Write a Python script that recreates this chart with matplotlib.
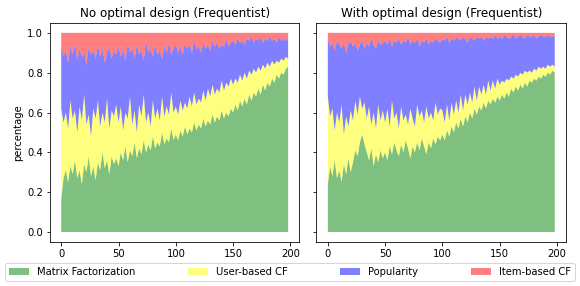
import numpy as np
import matplotlib
matplotlib.use("Agg")
import matplotlib.pyplot as plt

# shares (in %) of each recommender per round (every 2nd round)
rounds = np.arange(0, 200, 2)
labels = ["Matrix Factorization", "User-based CF", "Popularity", "Item-based CF"]
colors = ["green", "yellow", "blue", "red"]
titles = ["No optimal design (Frequentist)", "With optimal design (Frequentist)"]

# left panel: no optimal design
mf_no = [16, 27, 31, 25, 33, 29, 36, 27, 31, 24, 34, 30, 38, 28, 33, 26, 35, 31, 40, 32, 36, 29, 38, 34, 37,
         33, 40, 36, 43, 35, 41, 38, 45, 37, 42, 39, 46, 40, 44, 41, 48, 42, 45, 43, 50, 44, 47, 45, 52, 46,
         49, 46, 51, 48, 53, 49, 52, 50, 55, 51, 54, 52, 57, 53, 56, 54, 59, 55, 58, 56, 61, 57, 60, 58, 62,
         60, 64, 61, 66, 63, 67, 64, 69, 66, 70, 68, 72, 69, 74, 71, 75, 73, 77, 75, 79, 77, 80, 79, 82, 83]
ub_no = [46, 28, 29, 27, 33, 28, 25, 23, 32, 32, 35, 24, 21, 20, 29, 31, 31, 22, 20, 23, 31, 23, 23, 24, 27,
         22, 23, 15, 17, 22, 27, 16, 16, 13, 22, 19, 23, 15, 16, 12, 18, 15, 17, 13, 18, 14, 16, 14, 18, 14,
         14, 13, 15, 13, 12, 13, 16, 13, 15, 13, 13, 13, 14, 13, 16, 14, 15, 14, 14, 14, 15, 14, 15, 15, 15,
         14, 13, 14, 13, 13, 13, 13, 12, 13, 12, 12, 11, 12, 10, 11, 10, 10, 9, 9, 7, 8, 7, 7, 6, 4]
pop_no = [32, 33, 31, 33, 27, 32, 34, 36, 29, 32, 21, 30, 34, 41, 29, 30, 28, 35, 32, 30, 23, 41, 26, 33, 25,
          38, 25, 41, 26, 38, 22, 38, 26, 44, 25, 33, 17, 41, 30, 39, 22, 37, 27, 35, 19, 35, 27, 36, 19, 32,
          31, 31, 27, 28, 30, 30, 26, 27, 26, 28, 26, 25, 24, 26, 22, 23, 22, 24, 23, 22, 18, 22, 22, 20, 18,
          22, 17, 22, 16, 20, 14, 20, 15, 19, 13, 17, 13, 17, 11, 15, 11, 15, 10, 13, 9, 13, 9, 11, 8, 10]
ib_no = [6, 12, 9, 15, 7, 11, 5, 14, 8, 12, 10, 16, 7, 11, 9, 13, 6, 12, 8, 15, 10, 7, 13, 9, 11,
         7, 12, 8, 14, 5, 10, 8, 13, 6, 11, 9, 14, 4, 10, 8, 12, 6, 11, 9, 13, 7, 10, 5, 11, 8,
         6, 10, 7, 11, 5, 8, 6, 10, 4, 8, 7, 10, 5, 8, 6, 9, 4, 7, 5, 8, 6, 7, 3, 7, 5,
         4, 6, 3, 5, 4, 6, 3, 4, 2, 5, 3, 4, 2, 5, 3, 4, 2, 4, 3, 5, 2, 4, 3, 4, 3]

# right panel: with optimal design
mf_opt = [24, 33, 28, 36, 27, 31, 25, 34, 29, 37, 30, 35, 41, 38, 45, 49, 44, 40, 36, 42, 33, 39, 35, 41, 37,
          40, 36, 43, 39, 45, 41, 38, 44, 40, 46, 42, 37, 43, 40, 45, 41, 47, 43, 39, 45, 42, 47, 44, 48, 46,
          49, 46, 51, 48, 53, 50, 55, 52, 57, 53, 58, 55, 60, 57, 62, 59, 63, 61, 65, 62, 66, 64, 67, 65, 68,
          66, 69, 67, 70, 68, 72, 70, 73, 71, 74, 72, 75, 73, 76, 75, 77, 76, 78, 77, 79, 78, 80, 79, 81, 80]
ub_opt = [44, 25, 34, 15, 33, 24, 39, 15, 29, 16, 31, 21, 25, 21, 23, 13, 21, 17, 27, 12, 27, 13, 29, 15, 24,
          15, 26, 10, 27, 12, 19, 14, 19, 16, 13, 12, 25, 14, 13, 19, 17, 14, 12, 24, 12, 18, 9, 21, 11, 16,
          12, 9, 13, 8, 12, 9, 11, 8, 12, 8, 11, 9, 10, 8, 11, 7, 10, 8, 9, 7, 10, 7, 9, 7, 9,
          8, 7, 8, 7, 8, 6, 7, 6, 7, 6, 7, 6, 7, 5, 5, 5, 5, 5, 5, 4, 4, 4, 4, 3, 3]
pop_opt = [29, 35, 33, 40, 36, 39, 28, 46, 32, 41, 35, 37, 29, 32, 26, 34, 27, 38, 30, 43, 34, 40, 32, 38, 34,
           41, 32, 44, 27, 39, 35, 45, 31, 40, 36, 44, 32, 39, 42, 33, 35, 35, 40, 34, 37, 36, 39, 32, 37, 33,
           36, 41, 34, 39, 32, 37, 32, 37, 27, 37, 28, 31, 28, 32, 23, 32, 24, 29, 22, 29, 21, 27, 21, 27, 20,
           24, 21, 24, 21, 21, 20, 22, 18, 20, 19, 19, 16, 19, 17, 18, 17, 16, 15, 17, 15, 16, 15, 15, 14, 16]
ib_opt = [3, 7, 5, 9, 4, 6, 8, 5, 10, 6, 4, 7, 5, 9, 6, 4, 8, 5, 7, 3, 6, 8, 4, 6, 5,
          4, 6, 3, 7, 4, 5, 3, 6, 4, 5, 2, 6, 4, 5, 3, 7, 4, 5, 3, 6, 4, 5, 3, 4, 5,
          3, 4, 2, 5, 3, 4, 2, 3, 4, 2, 3, 5, 2, 3, 4, 2, 3, 2, 4, 2, 3, 2, 3, 1, 3,
          2, 3, 1, 2, 3, 2, 1, 3, 2, 1, 2, 3, 1, 2, 2, 1, 3, 2, 1, 2, 2, 1, 2, 2, 1]

panels = [
    [mf_no, ub_no, pop_no, ib_no],
    [mf_opt, ub_opt, pop_opt, ib_opt],
]

fig, axes = plt.subplots(1, 2, figsize=(580 / 72, 286 / 72), dpi=72, sharey=True)
fig.subplots_adjust(left=0.086, right=0.976, top=0.92, bottom=0.154, wspace=0.068)

for ax, series, title in zip(axes, panels, titles):
    ys = [np.array(s) / 100.0 for s in series]
    ax.stackplot(rounds, *ys, labels=labels, colors=colors, alpha=0.5)
    ax.set_title(title)
    ax.set_xticks([0, 50, 100, 150, 200])
    ax.set_yticks([0.0, 0.2, 0.4, 0.6, 0.8, 1.0])

axes[0].set_ylim(-0.05, 1.05)
axes[0].set_ylabel("percentage")

handles, labs = axes[0].get_legend_handles_labels()
fig.legend(handles, labs, loc="lower left", ncol=4, mode="expand",
           bbox_to_anchor=(0.0, 0.0, 1.0, 0.1), borderaxespad=0.5)

fig.savefig("out.png", dpi=72)
